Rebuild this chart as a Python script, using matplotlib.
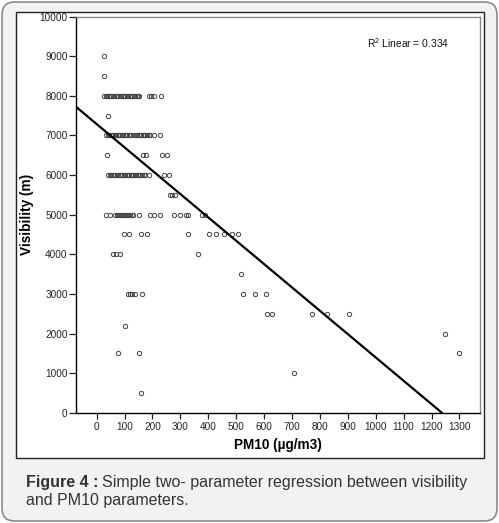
import matplotlib
matplotlib.use("Agg")
import matplotlib.pyplot as plt
from matplotlib.patches import FancyBboxPatch, Rectangle

plt.rcParams['font.family'] = ['Liberation Sans', 'DejaVu Sans']
plt.rcParams['mathtext.fontset'] = 'custom'
plt.rcParams['mathtext.rm'] = 'Liberation Sans'
plt.rcParams['mathtext.it'] = 'Liberation Sans:italic'
plt.rcParams['mathtext.bf'] = 'Liberation Sans:bold'

# ---- data ----
rows = {
    9000: [28],
    8500: [28],
    8000: [28, 33, 38, 43, 48, 53, 58, 63, 68, 73, 78, 83, 88, 93, 98, 103, 108,
           113, 118, 123, 128, 133, 138, 143, 148, 152, 187, 196, 207, 229],
    7500: [39],
    7000: [35, 40, 45, 50, 55, 60, 65, 70, 75, 80, 85, 90, 95, 100, 105, 110, 115,
           120, 124, 135, 140, 145, 150, 155, 160, 165, 170, 175, 180, 186, 192,
           207, 228],
    6500: [38, 166, 176, 234, 251],
    6000: [42, 47, 52, 57, 62, 67, 72, 77, 82, 87, 92, 97, 102, 107, 112, 117, 122,
           127, 132, 137, 142, 147, 152, 157, 162, 168, 174, 189, 240, 260],
    5500: [263, 270, 279],
    5000: [35, 48, 66, 72, 78, 84, 90, 96, 102, 108, 114, 120, 126, 132, 150, 190,
           206, 228, 278, 299, 321, 329, 377, 387],
    4500: [98, 117, 159, 180, 329, 404, 428, 458, 486, 505],
    4000: [59, 71, 83, 362],
    3500: [518],
    3000: [114, 121, 128, 138, 162, 526, 568, 608],
    2500: [610, 628, 771, 827, 903],
    2200: [100],
    2000: [1249],
    1500: [75, 150, 1299],
    1000: [709],
    500: [160],
}
pm10 = []
visibility = []
for vis, xs in rows.items():
    for x in xs:
        pm10.append(x)
        visibility.append(vis)

fit_intercept = 7289
fit_slope = -5.893
fit_x = [-74, 1237]
fit_y = [fit_intercept + fit_slope * x for x in fit_x]

x_ticks = list(range(0, 1301, 100))
y_ticks = list(range(0, 10001, 1000))
r2_text = "R$^2$ Linear = 0.334"
caption_bold = "Figure 4 :"
caption_line1 = "Simple two- parameter regression between visibility"
caption_line2 = "and PM10 parameters."

W, H = 499, 523
fig = plt.figure(figsize=(W / 100, H / 100), dpi=100)
fig.patch.set_facecolor('white')

# outer rounded panel
outer = FancyBboxPatch((2 / W, 2 / H), (W - 4) / W, (H - 4) / H,
                       boxstyle="round,pad=0,rounding_size=0.025",
                       transform=fig.transFigure, facecolor='#f2f2f2',
                       edgecolor='#8a8a8a', linewidth=1.2, zorder=0)
fig.patches.append(outer)
# white chart box
box = Rectangle((15.5 / W, (H - 458) / H), (484 - 15.5) / W, (458 - 12.3) / H,
                transform=fig.transFigure, facecolor='white',
                edgecolor='#222222', linewidth=1.0, zorder=1)
fig.patches.append(box)

ax = fig.add_axes([76 / W, (H - 412.7) / H, (479.5 - 76) / W, (412.7 - 16.7) / H])
ax.set_facecolor('white')
ax.set_zorder(2)

ax.plot(pm10, visibility, linestyle='none', marker='o', markersize=3.1,
        markerfacecolor='none', markeredgecolor='#444444', markeredgewidth=0.7)
ax.plot(fit_x, fit_y, color='black', linewidth=1.6)

ax.set_xlim(-74, 1372)
ax.set_ylim(0, 10000)
ax.set_xticks(x_ticks)
ax.set_yticks(y_ticks)
ax.tick_params(axis='both', direction='out', labelsize=7.2, colors='#222222',
               length=4, width=0.9)
ax.tick_params(axis='y', length=5, pad=1)
ax.tick_params(axis='x', pad=3)
for s in ['left', 'bottom']:
    ax.spines[s].set_color('black')
    ax.spines[s].set_linewidth(1.0)
for s in ['top', 'right']:
    ax.spines[s].set_color('#888888')
    ax.spines[s].set_linewidth(1.0)

ax.set_xlabel("PM10 (µg/m3)", fontsize=9.8, fontweight='bold', labelpad=4)
ax.set_ylabel("Visibility (m)", fontsize=9.8, fontweight='bold', labelpad=4)

fig.text(366.7 / W, (H - 43) / H, r2_text, fontsize=7.4, ha='left', va='center',
         color='#111111')

cap_size = 11.5
tb = fig.text(26 / W, (H - 482) / H, caption_bold, fontsize=cap_size, fontweight='bold',
              color='#333333', ha='left', va='center')
renderer = fig.canvas.get_renderer()
bb = tb.get_window_extent(renderer=renderer)
fig.text((bb.x1 + 4) / W, (H - 482) / H, caption_line1,
         fontsize=cap_size, color='#333333', ha='left', va='center')
fig.text(26 / W, (H - 500) / H, caption_line2, fontsize=cap_size,
         color='#333333', ha='left', va='center')

fig.savefig("out.png", dpi=100, facecolor=fig.get_facecolor())
